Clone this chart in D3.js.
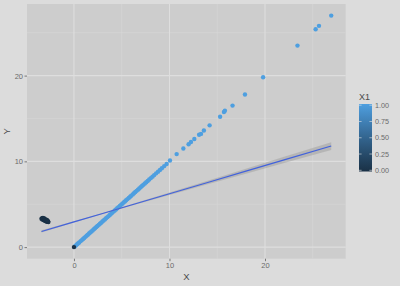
<!DOCTYPE html>
<html><head><meta charset="utf-8">
<script src="https://cdn.jsdelivr.net/npm/d3@7"></script>
<style>body{margin:0;background:#dcdcdc}svg{display:block}</style>
</head><body>
<svg id="c" width="400" height="286"></svg>
<script>
// Points with X1 = 0 (dark cluster + origin)
const darkPts = [[-3.40,3.30],[-3.32,3.36],[-3.30,3.22],[-3.22,3.30],[-3.18,3.16],[-3.12,3.26],[-3.08,3.10],[-3.02,3.20],[-2.98,3.04],[-2.92,3.14],[-2.88,2.98],[-2.82,3.08],[-2.78,2.95],[-2.72,3.02],[-2.68,2.92],[-3.25,3.40],[-3.10,3.34],[-2.95,3.24],[-2.80,3.14]];
const originPt = [[0,0]];
// Points with X1 = 1 (along Y = X)
const lightPts = [[0.08,0.08],[0.2,0.2],[0.33,0.33],[0.45,0.45],[0.55,0.55],[0.7,0.7],[0.82,0.82],[0.95,0.95],[1.07,1.07],[1.2,1.2],[1.32,1.32],[1.45,1.45],[1.58,1.58],[1.7,1.7],[1.83,1.83],[1.95,1.95],[2.08,2.08],[2.2,2.2],[2.34,2.34],[2.46,2.46],[2.6,2.6],[2.72,2.72],[2.85,2.85],[2.98,2.98],[3.1,3.1],[3.23,3.23],[3.36,3.36],[3.5,3.5],[3.62,3.62],[3.75,3.75],[3.88,3.88],[4.0,4.0],[4.14,4.14],[4.27,4.27],[4.4,4.4],[4.53,4.53],[4.66,4.66],[4.8,4.8],[4.93,4.93],[5.06,5.06],[5.2,5.2],[5.33,5.33],[5.46,5.46],[5.6,5.6],[5.74,5.74],[5.88,5.88],[6.0,6.0],[6.15,6.15],[6.28,6.28],[6.42,6.42],[6.56,6.56],[6.7,6.7],[6.84,6.84],[6.98,6.98],[7.12,7.12],[7.27,7.27],[7.42,7.42],[7.57,7.57],[7.72,7.72],[7.88,7.88],[8.05,8.05],[8.22,8.22],[8.4,8.4],[8.6,8.6],[8.8,8.8],[9.0,9.0],[9.2,9.2],[9.45,9.45],[9.7,9.7],
  [10.05,10.1],[10.75,10.85],[11.45,11.5],[12.0,12.0],[12.25,12.25],[12.6,12.6],[13.1,13.1],[13.3,13.2],[13.6,13.6],[14.2,14.2],[15.3,15.2],[15.7,15.75],[15.8,15.9],[16.6,16.5],[17.9,17.8],[19.8,19.8],[23.4,23.5],[25.3,25.4],[25.65,25.8],[26.93,27.0]];
// Linear fit (geom_smooth, method = lm)
const smoothX  = [-3.4, 0, 3, 6, 10, 14, 18, 22, 26.93];
const smoothY  = [1.823, 2.94, 3.926, 4.912, 6.226, 7.54, 8.855, 10.17, 11.79];
const smoothLo = [1.693, 2.865, 3.876, 4.837, 6.085, 7.327, 8.569, 9.809, 11.337];
const smoothHi = [1.953, 3.015, 3.976, 4.987, 6.367, 7.753, 9.141, 10.531, 12.243];
const xTicks = [0, 10, 20];
const yTicks = [0, 10, 20];
const legendTicks = [0, 0.25, 0.5, 0.75, 1];
const legendLabels = ["0.00", "0.25", "0.50", "0.75", "1.00"];

const svg = d3.select("#c");
const W = 400, H = 286;
const P = {l: 27, r: 345.7, t: 4, b: 258.7};
svg.append("rect").attr("width", W).attr("height", H).attr("fill", "#dcdcdc");

const allX = darkPts.concat(originPt, lightPts).map(d => d[0]);
const allY = darkPts.concat(originPt, lightPts).map(d => d[1]).concat(smoothLo, smoothHi);
const xe = d3.extent(allX), ye = d3.extent(allY);
const xr = xe[1]-xe[0], yr = ye[1]-ye[0];
const x = d3.scaleLinear().domain([xe[0]-0.05*xr, xe[1]+0.05*xr]).range([P.l, P.r]);
const y = d3.scaleLinear().domain([ye[0]-0.05*yr, ye[1]+0.05*yr]).range([P.b, P.t]);
const col = d3.scaleLinear().domain([0,1]).range(["#1a3146","#4e9fe0"]).interpolate(d3.interpolateLab);

svg.append("rect").attr("x", P.l).attr("y", P.t).attr("width", P.r-P.l).attr("height", P.b-P.t).attr("fill", "#cdcdcd");

const g = svg.append("g");
const xMinor = [-5, 5, 15, 25].filter(v => x(v) > P.l && x(v) < P.r);
const yMinor = [5, 15, 25].filter(v => y(v) > P.t && y(v) < P.b);
g.selectAll(".xm").data(xMinor).join("line").attr("x1", d=>x(d)).attr("x2", d=>x(d)).attr("y1", P.t).attr("y2", P.b).attr("stroke", "#d6d6d6").attr("stroke-width", 0.6);
g.selectAll(".ym").data(yMinor).join("line").attr("y1", d=>y(d)).attr("y2", d=>y(d)).attr("x1", P.l).attr("x2", P.r).attr("stroke", "#d6d6d6").attr("stroke-width", 0.6);
g.selectAll(".xM").data(xTicks).join("line").attr("x1", d=>x(d)).attr("x2", d=>x(d)).attr("y1", P.t).attr("y2", P.b).attr("stroke", "#dedede").attr("stroke-width", 1.1);
g.selectAll(".yM").data(yTicks).join("line").attr("y1", d=>y(d)).attr("y2", d=>y(d)).attr("x1", P.l).attr("x2", P.r).attr("stroke", "#dedede").attr("stroke-width", 1.1);

// points
const R = 2.2;
svg.append("g").selectAll("circle").data(darkPts).join("circle").attr("cx", d=>x(d[0])).attr("cy", d=>y(d[1])).attr("r", R).attr("fill", col(0));
svg.append("g").selectAll("circle").data(lightPts).join("circle").attr("cx", d=>x(d[0])).attr("cy", d=>y(d[1])).attr("r", R).attr("fill", col(1));
svg.append("g").selectAll("circle").data(originPt).join("circle").attr("cx", d=>x(d[0])).attr("cy", d=>y(d[1])).attr("r", R).attr("fill", col(0));

// smooth
const sm = smoothX.map((v,i) => ({x: v, y: smoothY[i], lo: smoothLo[i], hi: smoothHi[i]}));
svg.append("path").datum(sm).attr("d", d3.area().x(d=>x(d.x)).y0(d=>y(d.lo)).y1(d=>y(d.hi))).attr("fill", "#9a9a9a").attr("fill-opacity", 0.45);
svg.append("path").datum(sm).attr("d", d3.line().x(d=>x(d.x)).y(d=>y(d.y))).attr("fill", "none").attr("stroke", "#4262dc").attr("stroke-width", 1.2);

// axes
const font = "Liberation Sans, Arial, sans-serif";
const ax = svg.append("g").attr("transform", `translate(0,${P.b})`).call(d3.axisBottom(x).tickValues(xTicks).tickSize(2.5).tickPadding(1.5));
const ay = svg.append("g").attr("transform", `translate(${P.l},0)`).call(d3.axisLeft(y).tickValues(yTicks).tickSize(2.5).tickPadding(1.5));
[ax, ay].forEach(a => {
  a.select(".domain").remove();
  a.selectAll("line").attr("stroke", "#7a7a7a");
  a.selectAll("text").attr("fill", "#6a6a6a").style("font-family", font).style("font-size", "7.5px");
});
svg.append("text").attr("x", (P.l+P.r)/2).attr("y", 280).attr("text-anchor", "middle").attr("fill", "#4a4a4a").style("font-family", font).style("font-size", "9.5px").text("X");
svg.append("text").attr("transform", `translate(10,${(P.t+P.b)/2}) rotate(-90)`).attr("text-anchor", "middle").attr("fill", "#4a4a4a").style("font-family", font).style("font-size", "9.5px").text("Y");

// legend
const LB = {x: 359, w: 13, t: 104, b: 171.5};
const ly = d3.scaleLinear().domain([0,1]).range([170.3, 105.2]);
const defs = svg.append("defs");
const gr = defs.append("linearGradient").attr("id", "lg").attr("x1", 0).attr("y1", 1).attr("x2", 0).attr("y2", 0);
d3.range(0, 1.0001, 0.1).forEach(t => gr.append("stop").attr("offset", t).attr("stop-color", col(t)));
svg.append("text").attr("x", LB.x).attr("y", 99.5).attr("fill", "#4a4a4a").style("font-family", font).style("font-size", "9px").text("X1");
svg.append("rect").attr("x", LB.x).attr("y", LB.t).attr("width", LB.w).attr("height", LB.b-LB.t).attr("fill", "url(#lg)");
const lt = svg.append("g");
lt.selectAll(".tl").data(legendTicks).join("line").attr("x1", LB.x).attr("x2", LB.x+2.6).attr("y1", d=>ly(d)).attr("y2", d=>ly(d)).attr("stroke", "#e8e8e8").attr("stroke-width", 0.6);
lt.selectAll(".tr").data(legendTicks).join("line").attr("x1", LB.x+LB.w-2.6).attr("x2", LB.x+LB.w).attr("y1", d=>ly(d)).attr("y2", d=>ly(d)).attr("stroke", "#e8e8e8").attr("stroke-width", 0.6);
lt.selectAll("text").data(legendTicks).join("text").attr("x", LB.x+LB.w+3).attr("y", d=>ly(d)).attr("dy", "0.35em").attr("fill", "#6a6a6a").style("font-family", font).style("font-size", "7.2px").text((d,i)=>legendLabels[i]);
</script>
</body></html>
